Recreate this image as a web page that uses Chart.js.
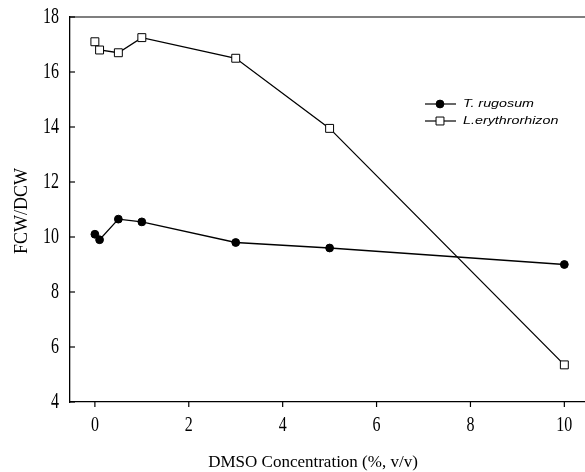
<!DOCTYPE html>
<html>
<head>
<meta charset="utf-8">
<script src="https://cdn.jsdelivr.net/npm/chart.js@4"></script>
<style>
  html, body { margin: 0; padding: 0; background: #fff; }
  #wrap { width: 585px; height: 472px; }
</style>
</head>
<body>
<div id="wrap"><canvas id="chart"></canvas></div>
<script>
// DMSO concentration (%, v/v)
const dmso = [0, 0.1, 0.5, 1, 3, 5, 10];
// FCW/DCW
const rugosum = [10.1, 9.9, 10.65, 10.55, 9.8, 9.6, 9.0];
const erythrorhizon = [17.1, 16.8, 16.7, 17.25, 16.5, 13.95, 5.35];
const yTicks = [4, 6, 8, 10, 12, 14, 16, 18];
const xTicks = [0, 2, 4, 6, 8, 10];
const xTitle = 'DMSO Concentration (%, v/v)';
const yTitle = 'FCW/DCW';

const serif = '"Liberation Serif", "DejaVu Serif", serif';

function pts(xs, ys) {
    return xs.map(function(x, i) { return { x: x, y: ys[i] }; });
}

// text drawn a bit taller than wide, like the scanned figure
function tallText(ctx, txt, x, y, sy, align) {
    ctx.save();
    ctx.translate(x, y);
    ctx.scale(1, sy);
    ctx.textAlign = align;
    ctx.textBaseline = 'middle';
    ctx.fillText(txt, 0, 0);
    ctx.restore();
}

const extras = {
    id: 'extras',
    afterDraw: function(chart) {
        const ctx = chart.ctx;
        const a = chart.chartArea;
        const xs = chart.scales.x, ys = chart.scales.y;
        ctx.save();
        ctx.strokeStyle = '#000';
        ctx.fillStyle = '#000';
        ctx.lineWidth = 1.2;

        // top frame line
        ctx.beginPath();
        ctx.moveTo(a.left, a.top);
        ctx.lineTo(a.right, a.top);
        ctx.stroke();

        // y ticks (inward) and labels
        ctx.font = '16px ' + serif;
        yTicks.forEach(function(v) {
            const py = ys.getPixelForValue(v);
            ctx.beginPath();
            ctx.moveTo(a.left, py);
            ctx.lineTo(a.left + 5, py);
            ctx.stroke();
            tallText(ctx, String(v), 59, py, 1.4, 'right');
        });

        // x ticks (outward) and labels
        xTicks.forEach(function(v) {
            const px = xs.getPixelForValue(v);
            ctx.beginPath();
            ctx.moveTo(px, a.bottom);
            ctx.lineTo(px, a.bottom + 5);
            ctx.stroke();
            tallText(ctx, String(v), px, 425, 1.35, 'center');
        });

        // axis titles
        ctx.font = '17px ' + serif;
        ctx.textAlign = 'center';
        ctx.textBaseline = 'middle';
        ctx.fillText(xTitle, 313, 463);
        ctx.save();
        ctx.translate(22, 211);
        ctx.rotate(-Math.PI / 2);
        ctx.font = '18px ' + serif;
        ctx.fillText(yTitle, 0, 0);
        ctx.restore();

        // legend
        ctx.font = 'italic 11px "Liberation Sans", Arial, sans-serif';
        chart.data.datasets.forEach(function(ds, i) {
            const y = 104 + i * 17;
            const x0 = 425, x1 = 456, xm = 440;
            ctx.lineWidth = 1.2;
            ctx.beginPath();
            ctx.moveTo(x0, y);
            ctx.lineTo(x1, y);
            ctx.stroke();
            ctx.fillStyle = ds.pointBackgroundColor;
            ctx.lineWidth = 1;
            ctx.beginPath();
            if (ds.pointStyle === 'circle') {
                ctx.arc(xm, y, ds.pointRadius, 0, Math.PI * 2);
            } else {
                const s = Math.SQRT1_2 * ds.pointRadius;
                ctx.rect(xm - s, y - s, 2 * s, 2 * s);
            }
            ctx.fill();
            ctx.stroke();
            ctx.fillStyle = '#000';
            ctx.save();
            ctx.translate(463, y);
            ctx.scale(1.3, 1);
            ctx.textAlign = 'left';
            ctx.textBaseline = 'middle';
            ctx.fillText(ds.label, 0, 0);
            ctx.restore();
        });
        ctx.restore();
    }
};

new Chart(document.getElementById('chart'), {
    type: 'scatter',
    data: {
        datasets: [{
            label: 'T. rugosum',
            data: pts(dmso, rugosum),
            showLine: true,
            borderColor: '#000',
            borderWidth: 1.3,
            pointStyle: 'circle',
            pointRadius: 3.9,
            pointBackgroundColor: '#000',
            pointBorderColor: '#000',
            pointBorderWidth: 1
        }, {
            label: 'L.erythrorhizon',
            data: pts(dmso, erythrorhizon),
            showLine: true,
            borderColor: '#000',
            borderWidth: 1.3,
            pointStyle: 'rect',
            pointRadius: 5.6,
            pointBackgroundColor: '#fff',
            pointBorderColor: '#000',
            pointBorderWidth: 1
        }]
    },
    options: {
        responsive: true,
        maintainAspectRatio: false,
        animation: false,
        layout: { autoPadding: false, padding: { left: 0, right: 0, top: 17, bottom: 0 } },
        plugins: {
            legend: { display: false },
            tooltip: { enabled: false }
        },
        scales: {
            x: {
                type: 'linear',
                min: -0.53,
                max: 10.44,
                afterFit: function(scale) {
                    scale.height = 70;
                    scale.paddingLeft = 0;
                    scale.paddingRight = 0;
                },
                grid: { display: false },
                border: { color: '#000', width: 1.3 },
                ticks: { display: false }
            },
            y: {
                min: 4,
                max: 18,
                afterFit: function(scale) {
                    scale.width = 70;
                    scale.paddingTop = 0;
                    scale.paddingBottom = 0;
                },
                grid: { display: false },
                border: { color: '#000', width: 1.3 },
                ticks: { display: false }
            }
        }
    },
    plugins: [extras]
});
</script>
</body>
</html>
